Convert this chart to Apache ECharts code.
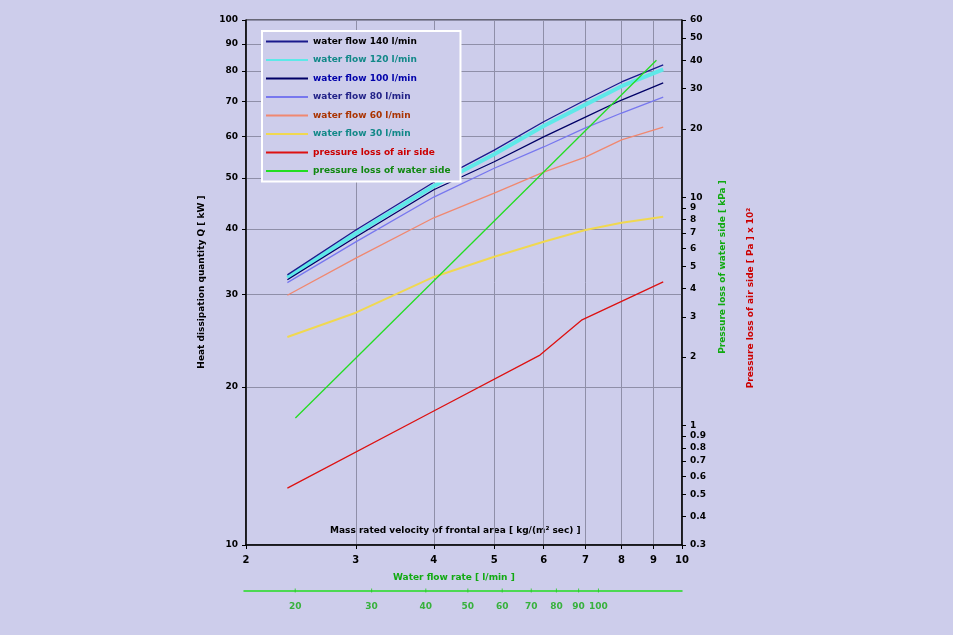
<!DOCTYPE html>
<html><head><meta charset="utf-8">
<script src="https://cdn.jsdelivr.net/npm/echarts@6/dist/echarts.min.js"></script>
<style>html,body{margin:0;padding:0;background:#cdcdeb}#c{width:953px;height:635px}</style>
</head><body><div id="c"></div>
<script>
const xVel = [2.33, 3, 4, 5, 6, 7, 8, 9.33];
const q140 = [32.7, 39.8, 49.1, 56.5, 64.0, 70.4, 76.2, 82.1];
const q120 = [32.3, 39.2, 48.3, 55.5, 62.8, 69.0, 74.8, 80.5];
const q100 = [32.0, 38.6, 47.5, 53.7, 59.9, 65.3, 70.4, 75.9];
const q80  = [31.6, 37.8, 46.0, 52.2, 57.3, 62.3, 66.5, 71.3];
const q60  = [29.9, 35.2, 42.0, 46.8, 51.3, 54.8, 59.1, 62.5];
const q30  = [24.9, 27.7, 32.4, 35.4, 37.8, 39.8, 41.1, 42.2];
const airX = [2.33, 4.0, 5.92, 6.9, 9.33];
const airP = [0.533, 1.16, 2.04, 2.90, 4.27];
const waterX = [2.40, 9.1];
const waterP = [1.08, 40];
const xTicks = [2, 3, 4, 5, 6, 7, 8, 9, 10];
const qTicks = [10, 20, 30, 40, 50, 60, 70, 80, 90, 100];
const pTicks = [0.3, 0.4, 0.5, 0.6, 0.7, 0.8, 0.9, 1, 2, 3, 4, 5, 6, 7, 8, 9, 10, 20, 30, 40, 50, 60];
const flowTicks = [20, 30, 40, 50, 60, 70, 80, 90, 100];
const names = ['water flow 140 l/min','water flow 120 l/min','water flow 100 l/min','water flow 80 l/min','water flow 60 l/min','water flow 30 l/min','pressure loss of air side','pressure loss of water side'];
const colors = ['#1a1a8c','#5ee8e8','#000066','#7777ee','#f08870','#f0d850','#dd1111','#22dd22'];
const textCols = ['#000000','#118888','#0000aa','#222288','#aa3300','#118888','#cc0000','#118811'];

const f = {fontFamily:'DejaVu Sans', fontWeight:'bold', fontSize:9, color:'#000'};
const chart = echarts.init(document.getElementById('c'));
const zip = (a,b)=>a.map((v,i)=>[v,b[i]]);
const qs=[q140,q120,q100,q80,q60,q30];
const series = qs.map((d,i)=>({name:names[i],type:'line',xAxisIndex:0,yAxisIndex:0,data:zip(xVel,d),symbol:'none',
  lineStyle:{color:colors[i],width:i===1?4:(i===5?2:1.3)},itemStyle:{color:colors[i]},z:i===1?2:3}));
series.push({name:names[6],type:'line',xAxisIndex:0,yAxisIndex:1,data:zip(airX,airP),symbol:'none',lineStyle:{color:colors[6],width:1.3},itemStyle:{color:colors[6]}});
series.push({name:names[7],type:'line',xAxisIndex:0,yAxisIndex:1,data:zip(waterX,waterP),symbol:'none',lineStyle:{color:colors[7],width:1.3},itemStyle:{color:colors[7]}});
series.push({type:'scatter',xAxisIndex:1,yAxisIndex:2,data:flowTicks.map(v=>[v,0]),symbol:'rect',symbolSize:[1,4],itemStyle:{color:'#22cc22'},
  label:{show:true,position:'bottom',distance:10,formatter:p=>p.value[0],...f,color:'#11aa11'},silent:true});

chart.setOption({
  backgroundColor:'#cdcdeb',
  animation:false,
  grid:[{left:246,right:271,top:20,bottom:90,show:true,backgroundColor:'#cdcdeb',borderColor:'#000',borderWidth:1},
        {left:244,right:271,top:590,height:1}],
  legend:{orient:'vertical',left:262,top:31,itemWidth:42,itemHeight:2,itemGap:9.5,icon:'rect',
    data:names.map((n,i)=>({name:n,textStyle:{...f,color:textCols[i]}})),
    backgroundColor:'#cdcdeb',borderColor:'#ffffff',borderWidth:2,padding:[6,10,6,4]},
  xAxis:[{type:'log',gridIndex:0,min:2,max:10,
    axisLine:{lineStyle:{color:'#000',width:1.5}},axisTick:{customValues:xTicks,inside:false,length:4,lineStyle:{color:'#000'}},
    axisLabel:{customValues:xTicks,...f,fontSize:10,margin:10},
    splitLine:{show:true,lineStyle:{color:'#8f8fa8',width:1}},minorTick:{show:false}},
   {type:'log',gridIndex:1,min:15.24,max:155.8,axisLine:{lineStyle:{color:'#22dd22',width:1.5}},axisTick:{show:false},axisLabel:{show:false},splitLine:{show:false}}],
  yAxis:[{type:'log',gridIndex:0,min:10,max:100,
    axisLine:{show:true,lineStyle:{color:'#000',width:1.5}},axisTick:{customValues:qTicks,length:4,lineStyle:{color:'#000'}},
    axisLabel:{customValues:qTicks,...f,margin:8},splitLine:{show:true,lineStyle:{color:'#8f8fa8'}}},
   {type:'log',gridIndex:0,min:0.3,max:60,position:'right',
    axisLine:{show:true,lineStyle:{color:'#000',width:1.5}},axisTick:{customValues:pTicks,length:4,lineStyle:{color:'#000'}},
    axisLabel:{customValues:pTicks,...f,margin:8},splitLine:{show:false}},
   {type:'value',gridIndex:1,min:-1,max:1,show:false}],
  graphic:[
    {type:'text',left:330,top:526,style:{text:'Mass rated velocity of frontal area [ kg/(m² sec) ]',font:'bold 9px DejaVu Sans',fill:'#000'}},
    {type:'text',left:393,top:573,style:{text:'Water flow rate [ l/min ]',font:'bold 9px DejaVu Sans',fill:'#11aa11'}},
    {type:'text',x:202,y:282,rotation:Math.PI/2,style:{text:'Heat dissipation quantity Q [ kW ]',font:'bold 9px DejaVu Sans',fill:'#000',align:'center',verticalAlign:'middle'}},
    {type:'text',x:723,y:267,rotation:Math.PI/2,style:{text:'Pressure loss of water side [ kPa ]',font:'bold 9px DejaVu Sans',fill:'#11aa11',align:'center',verticalAlign:'middle'}},
    {type:'text',x:751,y:298,rotation:Math.PI/2,style:{text:'Pressure loss of air side [ Pa ] x 10²',font:'bold 9px DejaVu Sans',fill:'#cc0000',align:'center',verticalAlign:'middle'}}
  ],
  series
});
</script></body></html>
